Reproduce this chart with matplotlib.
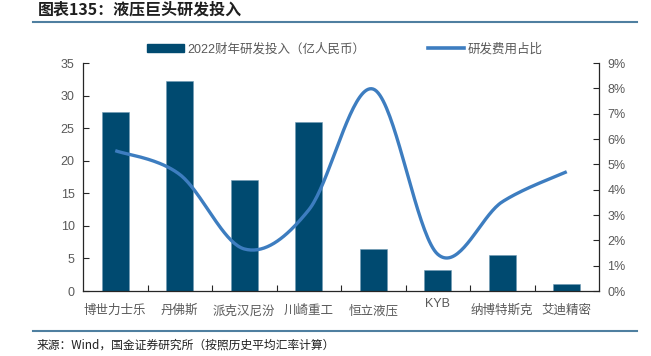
import numpy as np
import matplotlib
matplotlib.use("Agg")
import matplotlib.pyplot as plt
from matplotlib.ticker import FuncFormatter, MultipleLocator
from matplotlib.lines import Line2D
from matplotlib.patches import Patch

plt.rcParams['font.family'] = ['Liberation Sans', 'Noto Sans CJK SC', 'DejaVu Sans']

categories = ['博世力士乐', '丹佛斯', '派克汉尼汾', '川崎重工', '恒立液压', 'KYB', '纳博特斯克', '艾迪精密']
rd_spend = [27.5, 32.3, 17.1, 25.9, 6.5, 3.2, 5.6, 1.0]          # 亿人民币
rd_ratio = [5.54, 4.6, 1.66, 3.2, 7.97, 1.45, 3.52, 4.71]        # %

title = '图表135：液压巨头研发投入'
source = '来源：Wind，国金证券研究所（按照历史平均汇率计算）'
bar_label = '2022财年研发投入（亿人民币）'
line_label = '研发费用占比'

BAR_C = '#004A70'
LINE_C = '#3D7DC0'
TXT_C = '#595959'
RULE_C = '#4F7FA0'


def smooth(xs, ys, n=40):
    xs = np.asarray(xs, float); ys = np.asarray(ys, float)
    P = np.column_stack([xs, ys])
    Pe = np.vstack([P[0], P, P[-1]])
    out = []
    t = np.linspace(0, 1, n)[:, None]
    for i in range(len(P) - 1):
        p0, p3 = Pe[i + 1], Pe[i + 2]
        c1 = p0 + (Pe[i + 2] - Pe[i]) / 6.0
        c2 = p3 - (Pe[i + 3] - Pe[i + 1]) / 6.0
        seg = ((1 - t) ** 3) * p0 + 3 * ((1 - t) ** 2) * t * c1 + 3 * (1 - t) * t ** 2 * c2 + t ** 3 * p3
        out.append(seg if i == 0 else seg[1:])
    out = np.vstack(out)
    return out[:, 0], out[:, 1]


fig = plt.figure(figsize=(6.51, 3.56), dpi=100)
ax = fig.add_axes([83 / 651, 1 - 291 / 356, (599 - 83) / 651, (291 - 63) / 356])
ax2 = ax.twinx()

x = np.arange(len(categories))
ax.bar(x, rd_spend, width=0.42, color=BAR_C, edgecolor='#6F9AB5', linewidth=0.4, zorder=2)
ax.set_xlim(-0.5, len(categories) - 0.5)
ax.set_ylim(0, 35)
ax.yaxis.set_major_locator(MultipleLocator(5))

sx, sy = smooth(x, rd_ratio)
ax2.plot(sx, sy, color=LINE_C, linewidth=2.4, solid_capstyle='butt', zorder=3)
ax2.set_ylim(0, 9)
ax2.yaxis.set_major_locator(MultipleLocator(1))
ax2.yaxis.set_major_formatter(FuncFormatter(lambda v, p: f'{v:.0f}%'))

for a in (ax, ax2):
    a.spines['top'].set_visible(False)
    for s in a.spines.values():
        s.set_color('#262626')
        s.set_linewidth(0.9)
    a.tick_params(axis='y', direction='in', length=4, width=0.8, colors='#262626',
                  labelcolor=TXT_C, labelsize=9, pad=6)
ax.spines['right'].set_visible(False)
ax2.spines['left'].set_visible(False)
ax2.spines['bottom'].set_visible(False)

ax.set_xticks(x)
ax.set_xticklabels(categories, fontsize=9, color=TXT_C)
ax.tick_params(axis='x', length=0, pad=10)
ax.set_xticks(np.arange(len(categories) - 1) + 0.5, minor=True)
ax.tick_params(axis='x', which='minor', direction='in', length=4, width=0.8, colors='#262626')
ax.set_zorder(ax2.get_zorder() - 1)
ax.patch.set_visible(False)
for lbl in ax.get_xticklabels():
    if lbl.get_text() == 'KYB':
        lbl.set_y(0.03)

handles = [Patch(facecolor=BAR_C, edgecolor=BAR_C),
           Line2D([0], [0], color=LINE_C, linewidth=2.6)]
fig.legend(handles, [bar_label, line_label], loc='center', ncol=2,
           bbox_to_anchor=(0.53, 1 - 49 / 356), frameon=False, fontsize=9,
           handlelength=2.9, handleheight=0.55, handletextpad=0.3, columnspacing=5.0,
           labelcolor=TXT_C)

fig.text(38 / 651, 1 - 9 / 356, title, fontsize=11.5, fontweight='bold', color='#1F1F1F',
         ha='left', va='center', family=['Noto Sans CJK SC', 'DejaVu Sans'])
fig.add_artist(Line2D([33 / 651, 637 / 651], [1 - 22 / 356] * 2, color=RULE_C, linewidth=1.5))
fig.add_artist(Line2D([33 / 651, 637 / 651], [1 - 331 / 356] * 2, color=RULE_C, linewidth=1.5))
fig.text(37 / 651, 1 - 345 / 356, source, fontsize=8.5, color='#1F1F1F',
         ha='left', va='center', family=['Noto Sans CJK SC', 'DejaVu Sans'])

fig.savefig('out.png', dpi=100)
